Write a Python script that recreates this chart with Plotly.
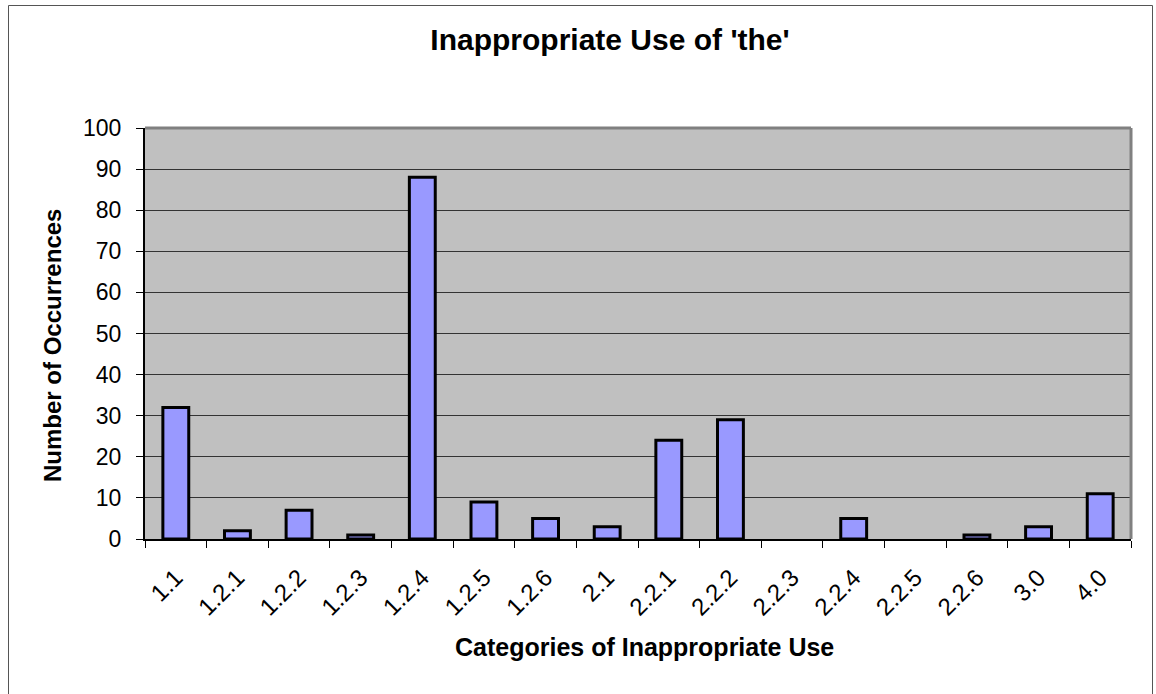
import plotly.graph_objects as go

categories = ["1.1", "1.2.1", "1.2.2", "1.2.3", "1.2.4", "1.2.5", "1.2.6", "2.1",
              "2.2.1", "2.2.2", "2.2.3", "2.2.4", "2.2.5", "2.2.6", "3.0", "4.0"]
occurrences = [32, 2, 7, 1, 88, 9, 5, 3, 24, 29, 0, 5, 0, 1, 3, 11]
y_ticks = list(range(0, 101, 10))

title_text = "Inappropriate Use of 'the'"
x_title = "Categories of Inappropriate Use"
y_title = "Number of Occurrences"

W, H = 1156, 694
ml, mr, mt, mb = 145, 25, 128, 155
pw, ph = W - ml - mr, H - mt - mb

def px_x(px):
    return (px - ml) / pw

def px_y(py):
    return (H - mb - py) / ph

FONT = "Liberation Sans, Arial, sans-serif"

fig = go.Figure(go.Bar(
    x=categories, y=occurrences,
    marker=dict(color="#9999FF",
                line=dict(color="black", width=[3 if v > 0 else 0 for v in occurrences])),
    width=0.42,
))

fig.update_layout(
    width=W, height=H, autosize=False,
    margin=dict(l=ml, r=mr, t=mt, b=mb, autoexpand=False),
    paper_bgcolor="white",
    plot_bgcolor="#C0C0C0",
    showlegend=False,
    font=dict(family=FONT, color="black"),
    title=dict(text="<b>" + title_text + "</b>", x=610 / W, xanchor="center",
               y=1 - 39 / H, yanchor="middle", yref="container",
               font=dict(size=30, family=FONT, color="black")),
)

fig.update_xaxes(
    type="category", tickangle=-45, tickson="boundaries",
    ticks="outside", ticklen=7, tickcolor="black", tickwidth=1,
    ticklabelstandoff=13,
    showgrid=False, showline=True, linecolor="black", linewidth=2,
    tickfont=dict(size=24, family=FONT, color="black"),
    range=[-0.5, len(categories) - 0.5],
)
fig.update_yaxes(
    range=[0, 100], tickvals=y_ticks, ticktext=[str(v) for v in y_ticks],
    ticks="outside", ticklen=7, tickcolor="black", tickwidth=1,
    ticklabelstandoff=10,
    showgrid=True, gridcolor="#333333", gridwidth=1,
    showline=True, linecolor="black", linewidth=2, zeroline=False,
    tickfont=dict(size=23, family=FONT, color="black"),
)

fig.add_annotation(text="<b>" + x_title + "</b>", xref="paper", yref="paper",
                   x=px_x(644), y=px_y(647), xanchor="center", yanchor="middle",
                   showarrow=False, font=dict(size=25, family=FONT, color="black"))
fig.add_annotation(text="<b>" + y_title + "</b>", xref="paper", yref="paper",
                   x=px_x(52), y=px_y(346), xanchor="center", yanchor="middle",
                   textangle=-90, showarrow=False,
                   font=dict(size=24, family=FONT, color="black"))

# 3D wall edges (top and right), gray
fig.add_shape(type="line", xref="paper", yref="paper", x0=0, x1=1, y0=1, y1=1,
              line=dict(color="#808080", width=3))
fig.add_shape(type="line", xref="paper", yref="paper", x0=1, x1=1, y0=0, y1=1,
              line=dict(color="#808080", width=3))
# outer chart frame
fig.add_shape(type="rect", xref="paper", yref="paper",
              x0=px_x(8.5), x1=px_x(1152.5), y0=px_y(697), y1=px_y(5.5),
              line=dict(color="#555555", width=1), fillcolor="rgba(0,0,0,0)", layer="below")

fig.write_html("out.html", config={"displayModeBar": False},
               post_script="document.body.style.margin='0';document.body.style.overflow='hidden';")
